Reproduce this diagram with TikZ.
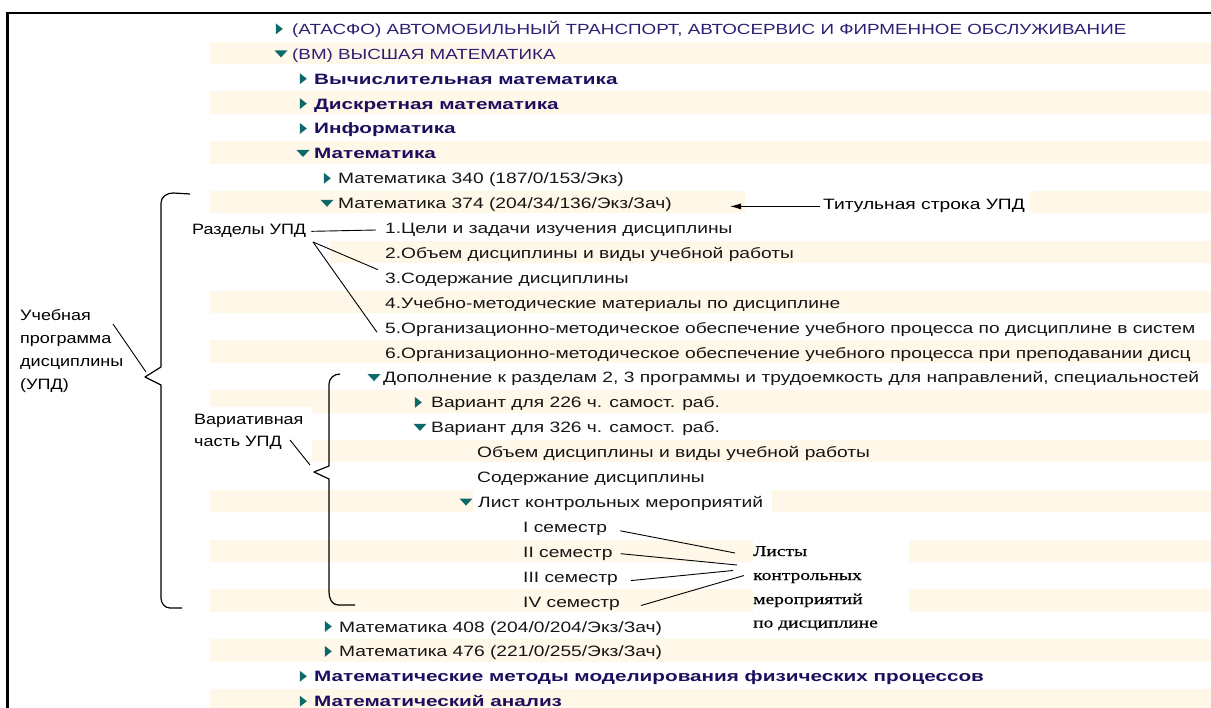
\documentclass[tikz,border=0pt]{standalone}
\usepackage{fontspec}
\setmainfont{Liberation Sans}
\newfontfamily\treefont[FakeStretch=1.28]{Liberation Sans}
\newfontfamily\boldtree[FakeStretch=1.38]{Liberation Sans}
\newfontfamily\annfont[FakeStretch=1.2]{Liberation Sans}
\newfontfamily\serifann[FakeStretch=1.3,FakeBold=0.5]{Liberation Serif}
\usetikzlibrary{arrows.meta}
\definecolor{stripe}{HTML}{FFF7E8}
\definecolor{tri}{HTML}{0E6A6A}
\definecolor{navy}{HTML}{2D1F73}
\definecolor{bnavy}{HTML}{1E0E5E}
\definecolor{ink}{HTML}{151515}
\newcommand\rtri[2]{\fill[tri] (#1-3.2,#2-5.5) -- (#1+3.8,#2) -- (#1-3.2,#2+5.5) -- cycle;}
\newcommand\dtri[2]{\fill[tri] (#1-6.5,#2-3.2) -- (#1+6.5,#2-3.2) -- (#1,#2+3.8) -- cycle;}
\begin{document}
\begin{tikzpicture}[x=1pt,y=-1pt,
 row/.style={anchor=base west,inner sep=0pt,font=\treefont\fontsize{15}{18}\selectfont,text=ink},
 caprow/.style={row,font=\treefont\fontsize{14.7}{18}\selectfont,text=navy},
 brow/.style={anchor=base west,inner sep=0pt,font=\boldtree\bfseries\fontsize{15}{18}\selectfont,text=bnavy},
 ann/.style={anchor=base west,inner sep=0pt,font=\annfont\fontsize{15}{18}\selectfont,text=black},
 sann/.style={anchor=base west,inner sep=0pt,font=\serifann\fontsize{15}{18}\selectfont,text=black},
 link/.style={draw=black,line width=0.9pt},
 brace/.style={draw=black,line width=1.2pt,line join=round},
]
\useasboundingbox (0,0) rectangle (1211,708);
\clip (0,0) rectangle (1211,708);
% stripes
\foreach \n in {2,4,...,28} {
  \fill[stripe] (210,{52.8+24.9*(\n-2)-11.2}) rectangle (1211,{52.8+24.9*(\n-2)+11.2});
}
% white label backgrounds
\fill[white] (185,216) rectangle (330,265);
\fill[white] (190,407) rectangle (312,465);
\fill[white] (745,190) rectangle (1030,214);
\fill[white] (473,490) rectangle (772,512);
\fill[white] (753,539) rectangle (909,613);
% frame
\draw[line width=2.6pt] (1211,13) -- (7.5,13) -- (7.5,708);
% triangles
\rtri{279}{28.9}
\dtri{281}{53.6}
\rtri{303}{78.7}
\rtri{303}{103.6}
\rtri{303}{128.5}
\dtri{303}{153.2}
\rtri{327}{178.3}
\dtri{327}{203}
\dtri{374}{377.3}
\rtri{418}{402.4}
\dtri{420}{427.1}
\dtri{466}{501.8}
\rtri{328}{626.5}
\rtri{328}{651.4}
\rtri{303}{676.3}
\rtri{303}{701.2}
% tree rows
\node[caprow] (r1) at (292,34.4) {(АТАСФО) АВТОМОБИЛЬНЫЙ ТРАНСПОРТ, АВТОСЕРВИС И ФИРМЕННОЕ ОБСЛУЖИВАНИЕ};
\node[caprow] (r2) at (292,59.3) {(ВМ) ВЫСШАЯ МАТЕМАТИКА};
\node[brow] (r3) at (314,84.2) {Вычислительная математика};
\node[brow] (r4) at (314,109.1) {Дискретная математика};
\node[brow] (r5) at (314,134) {Информатика};
\node[brow] (r6) at (314,158.9) {Математика};
\node[row] (r7) at (338,183.8) {Математика 340 (187/0/153/Экз)};
\node[row] (r8) at (338,208.7) {Математика 374 (204/34/136/Экз/Зач)};
\node[row] (r9) at (385,233.6) {1.Цели и задачи изучения дисциплины};
\node[row] (r10) at (385,258.5) {2.Объем дисциплины и виды учебной работы};
\node[row] (r11) at (385,283.4) {3.Содержание дисциплины};
\node[row] (r12) at (385,308.3) {4.Учебно-методические материалы по дисциплине};
\node[row] (r13) at (385,333.2) {5.Организационно-методическое обеспечение учебного процесса по дисциплине в систем};
\node[row] (r14) at (385,358.1) {6.Организационно-методическое обеспечение учебного процесса при преподавании дисц};
\node[row] (r15) at (383,383) {Дополнение к разделам 2, 3 программы и трудоемкость для направлений, специальностей};
\node[row] (r16) at (431,407.9) {Вариант для 226 ч. самост. раб.};
\node[row] (r17) at (431,432.8) {Вариант для 326 ч. самост. раб.};
\node[row] (r18) at (477,457.7) {Объем дисциплины и виды учебной работы};
\node[row] (r19) at (477,482.6) {Содержание дисциплины};
\node[row] (r20) at (478,507.5) {Лист контрольных мероприятий};
\node[row] (s1) at (523,532.4) {I семестр};
\node[row] (s2) at (523,557.3) {II семестр};
\node[row] (s3) at (523,582.2) {III семестр};
\node[row] (s4) at (523,607.1) {IV семестр};
\node[row] (r25) at (339,632) {Математика 408 (204/0/204/Экз/Зач)};
\node[row] (r26) at (339,656.9) {Математика 476 (221/0/255/Экз/Зач)};
\node[brow] (r27) at (314,681.8) {Математические методы моделирования физических процессов};
\node[brow] (r28) at (314,706.7) {Математический анализ};
% annotations
\node[row,text=black] (titul) at (823,210) {Титульная строка УПД};
\coordinate (titulTip) at (730,205);
\draw[link,-{Latex[length=11pt,width=6pt]}] ([xshift=-3pt]titul.west) -- (titul.west -| titulTip);
\node[ann] (razd) at (192,235) {Разделы УПД};
\coordinate (rz) at (313,242);
\draw[link] ([xshift=5pt]razd.east) -- ([xshift=-9pt]r9.west);
\draw[link] (rz) -- ([xshift=-7pt,yshift=10pt]r11.west);
\draw[link] (rz) -- ([xshift=-8pt,yshift=-3pt]r13.west);
\node[ann] (u1) at (20,321) {Учебная};
\node[ann] (u2) at (20,344) {программа};
\node[ann] (u3) at (20,367) {дисциплины};
\node[ann] (u4) at (20,390) {(УПД)};
\coordinate (ua) at (113,324);
\coordinate (ub) at (146,372);
\draw[link] (ua) -- (ub);
\draw[brace] (190,194) -- (173,193) to[out=180,in=90] (161,203) -- (161,367) -- (145,377) -- (161,385) -- (161,598) to[out=-90,in=180] (170,608) -- (182,608);
\node[ann] (v1) at (194,425) {Вариативная};
\node[ann] (v2) at (194,447) {часть УПД};
\coordinate (va) at (290,440);
\coordinate (vb) at (310,465);
\draw[link] (va) -- (vb);
\draw[brace] (340,374) to[out=180,in=90] (329,384) -- (329,466) -- (314,472) -- (329,479) -- (329,592) to[out=-90,in=180] (338,605) -- (355,605);
\node[sann] (l1) at (753,556) {Листы};
\node[sann] (l2) at (753,580) {контрольных};
\node[sann] (l3) at (753,604) {мероприятий};
\node[sann] (l4) at (753,627.5) {по дисциплине};
\coordinate (e1) at (735,553);
\coordinate (e2) at (737,565);
\coordinate (e3) at (733,570.5);
\coordinate (e4) at (744,575.5);
\draw[link] ([xshift=13pt,yshift=-2pt]s1.east) -- (e1);
\draw[link] ([xshift=8pt]s2.east) -- (e2);
\draw[link] ([xshift=13pt,yshift=-2pt]s3.east) -- (e3);
\draw[link] ([xshift=21pt,yshift=-2pt]s4.east) -- (e4);
\end{tikzpicture}
\end{document}
